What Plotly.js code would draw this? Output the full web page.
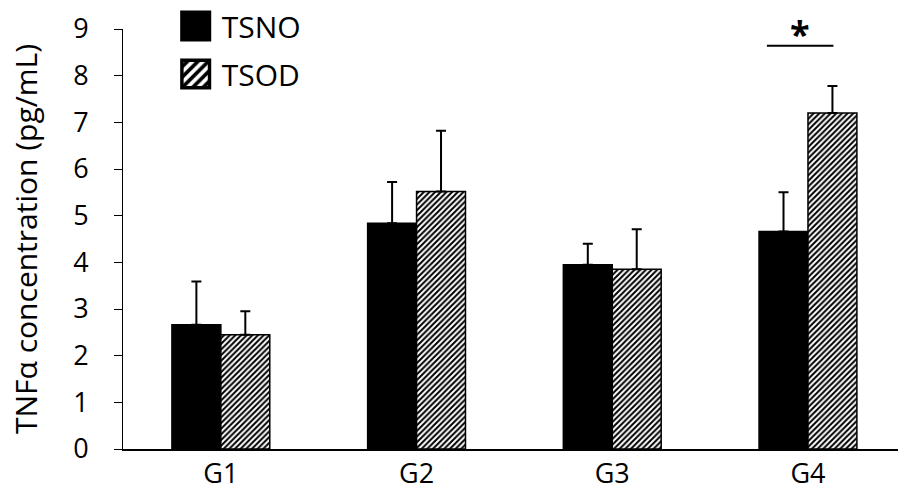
<!DOCTYPE html>
<html>
<head>
<meta charset="utf-8">
<script src="https://cdn.plot.ly/plotly-3.0.1.min.js"></script>
<style>
  html, body { margin: 0; padding: 0; background: #fff; }
  #chart { width: 898px; height: 499px; }
</style>
</head>
<body>
<div id="chart"></div>
<script>
// ---- data ----
const categories = ['G1', 'G2', 'G3', 'G4'];
const tsnoValues = [2.66, 4.84, 3.95, 4.66];
const tsnoErrors = [0.93, 0.88, 0.45, 0.84];
const tsodValues = [2.45, 5.52, 3.85, 7.20];
const tsodErrors = [0.50, 1.30, 0.86, 0.58];
const seriesNames = ['TSNO', 'TSOD'];
const yTickValues = [0, 1, 2, 3, 4, 5, 6, 7, 8, 9];
const yAxisTitle = 'TNF\u03B1 concentration (pg/mL)';
const significanceLabel = '*';
const significanceLevel = 8.64;   // height of the bracket line (data units)
const significanceSpan = [2.79, 3.13]; // x extent of the bracket (category units)

const FONT = '"Open Sans", "DejaVu Sans", sans-serif';

const errStyle = { type: 'data', symmetric: false, arrayminus: [0, 0, 0, 0],
                   color: '#000', thickness: 2, width: 5, visible: true };

const traces = [
  {
    type: 'bar', name: seriesNames[0], x: categories, y: tsnoValues,
    legendgroup: 'a',
    marker: { color: '#000', line: { color: '#000', width: 1.5 } },
    error_y: Object.assign({}, errStyle, { array: tsnoErrors })
  },
  {
    type: 'bar', name: seriesNames[1], x: categories, y: tsodValues,
    legendgroup: 'b',
    marker: { color: '#fff', line: { color: '#000', width: 1.5 },
              pattern: { shape: '/', fgcolor: '#000', bgcolor: '#fff', size: 4, solidity: 0.5 } },
    error_y: Object.assign({}, errStyle, { array: tsodErrors })
  }
];

const layout = {
  width: 898, height: 499,
  margin: { l: 123, r: 0, t: 20, b: 50 },
  paper_bgcolor: '#fff', plot_bgcolor: '#fff',
  font: { family: FONT, color: '#000' },
  barmode: 'group', bargap: 0.5, bargroupgap: 0,
  showlegend: true,
  legend: {
    x: 0.068, xanchor: 'left', y: 1.07, yanchor: 'top',
    font: { size: 30, family: FONT, color: '#000' },
    traceorder: 'grouped', tracegroupgap: 6,
    bgcolor: 'rgba(0,0,0,0)', itemwidth: 36
  },
  xaxis: {
    type: 'category', range: [-0.5, 3.46],
    showline: true, linecolor: '#000', linewidth: 2,
    ticks: '', showgrid: false, zeroline: false,
    tickfont: { size: 27, family: FONT, color: '#000' }
  },
  yaxis: {
    range: [0, 9], tickvals: yTickValues,
    showline: true, linecolor: '#000', linewidth: 1,
    ticks: 'outside', ticklen: 8, tickcolor: '#000', tickwidth: 1,
    ticklabelstandoff: 20,
    showgrid: false, zeroline: false,
    tickfont: { size: 27, family: FONT, color: '#000' },
    title: { text: yAxisTitle, font: { size: 30, family: FONT, color: '#000' }, standoff: 26 }
  },
  shapes: [
    { type: 'line', xref: 'x', yref: 'y',
      x0: significanceSpan[0], x1: significanceSpan[1],
      y0: significanceLevel, y1: significanceLevel,
      line: { color: '#000', width: 2 } }
  ],
  annotations: [
    { xref: 'x', yref: 'y', x: (significanceSpan[0] + significanceSpan[1]) / 2, y: significanceLevel,
      text: '<b>' + significanceLabel + '</b>', showarrow: false, yanchor: 'bottom', yshift: -14,
      font: { size: 36, family: FONT, color: '#000' } }
  ]
};

Plotly.newPlot('chart', traces, layout, { displayModeBar: false, staticPlot: true }).then(function () {
  // enlarge legend swatches to match the reference's big squares
  document.querySelectorAll('.legend .legendpoints path').forEach(function (p) {
    p.setAttribute('transform', 'translate(20,0) scale(2.3)');
  });
});
</script>
</body>
</html>
